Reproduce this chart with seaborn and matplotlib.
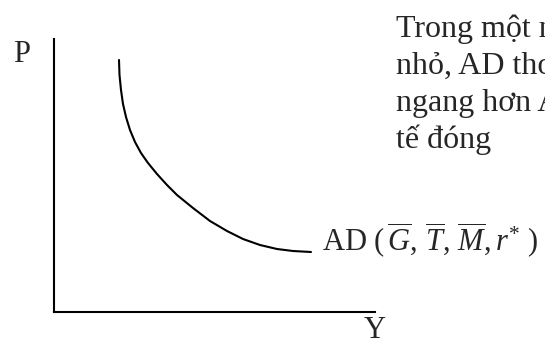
import matplotlib
matplotlib.use("Agg")
import matplotlib.pyplot as plt
import seaborn as sns
import pandas as pd

# AD curve (Y to the right, P upwards, same units on both axes)
ad_y = [65, 65.5, 67, 69, 72, 76, 81, 87, 94, 103, 113, 123, 139, 156, 173, 189, 206, 223, 239, 257]
ad_p = [252, 237, 222, 208, 195, 182, 170, 159, 149, 138, 127, 117, 104, 91, 81, 73, 67, 63, 61, 60]
y_max = 321
p_max = 273

axis_labels = ["P", "Y"]
curve_label = r"AD ($\,\overline{G},\,\overline{T},\,\overline{M},r^{*}$ )"
note_lines = [
    "Trong một nền kinh tế mở",
    "nhỏ, AD thoải hơn (nằm",
    "ngang hơn AD của nền kinh",
    "tế đóng",
]

sns.set_theme(style="white")
plt.rcParams["font.family"] = ["Liberation Serif", "DejaVu Serif"]
plt.rcParams["mathtext.fontset"] = "custom"
plt.rcParams["mathtext.rm"] = "Liberation Serif"
plt.rcParams["mathtext.it"] = "Liberation Serif:italic"

W, H = 545, 341
fig = plt.figure(figsize=(W / 100, H / 100), dpi=100)
ax = fig.add_axes([54 / W, 29 / H, y_max / W, p_max / H])

data = pd.DataFrame({"Y": ad_y, "P": ad_p})
sns.lineplot(data=data, x="Y", y="P", sort=False, estimator=None,
             color="black", linewidth=1.5, ax=ax)

ax.set_xlim(0, y_max)
ax.set_ylim(0, p_max)
ax.set_xticks([])
ax.set_yticks([])
ax.set_xlabel("")
ax.set_ylabel("")
for side in ["top", "right"]:
    ax.spines[side].set_visible(False)
for side in ["left", "bottom"]:
    ax.spines[side].set_color("black")
    ax.spines[side].set_linewidth(1.5)

fs = 22
fig.text(13 / W, 1 - 62 / H, axis_labels[0], fontsize=fs, va="baseline")
fig.text(364 / W, 1 - 338 / H, axis_labels[1], fontsize=fs, va="baseline")
fig.text(322 / W, 1 - 251 / H, curve_label, fontsize=fs, va="baseline")

for i, line in enumerate(note_lines):
    fig.text(396 / W, 1 - (37 + 37 * i) / H, line, fontsize=23, va="baseline")

fig.savefig("out.png", dpi=100)
plt.close(fig)
